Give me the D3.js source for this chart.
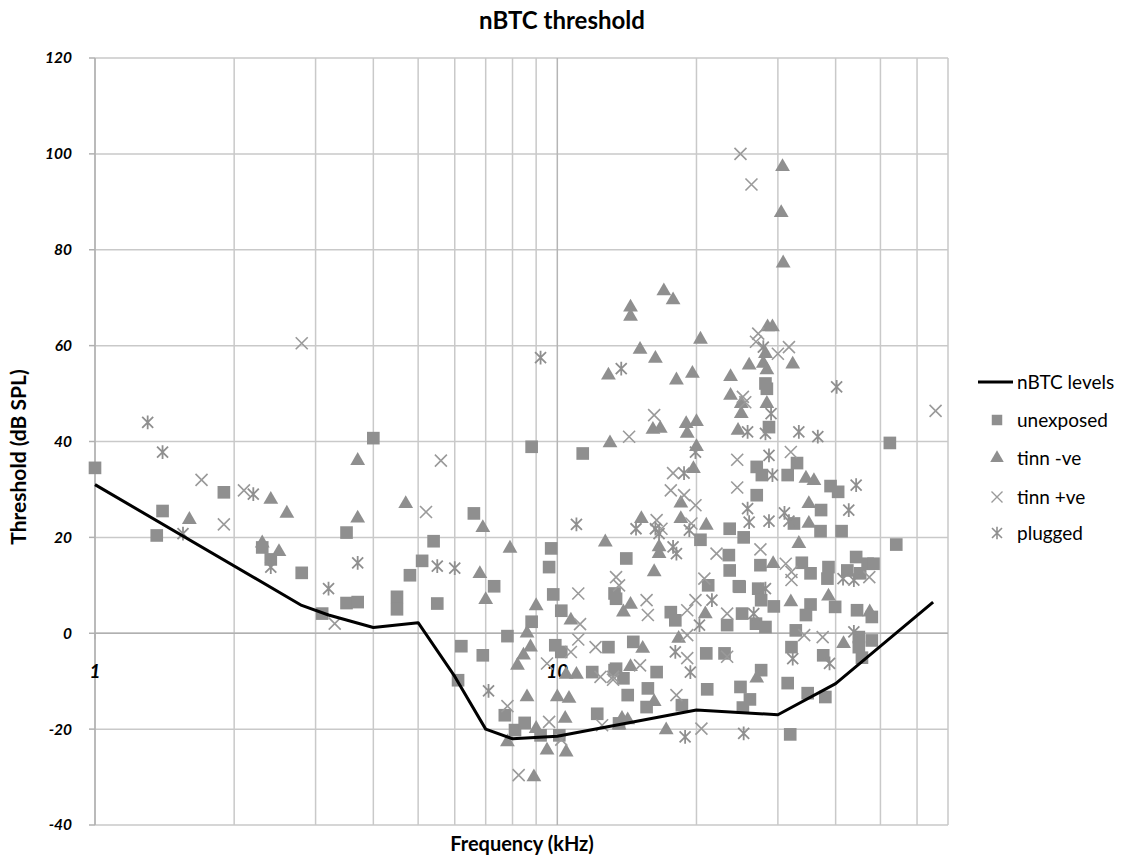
<!DOCTYPE html>
<html>
<head>
<meta charset="utf-8">
<script src="https://cdn.jsdelivr.net/npm/d3@7"></script>
<style>
  body { margin: 0; background: #fff; }
  text { font-family: Lato, "Open Sans", sans-serif; }
</style>
</head>
<body>
<div class="chart"></div>
<script>
// nBTC reference curve
var nbtcFreq  = [1, 2.8, 3.2, 4, 5, 6, 7, 8, 10, 20, 30, 40, 65];
var nbtcLevel = [31, 5.8, 3.8, 1.2, 2.2, -9, -20, -22, -21.5, -16, -17, -10.5, 6.5];

// [frequency kHz, threshold dB SPL]
var unexposed = [
  [1.0,34.5],[1.9,29.4],[1.4,25.5],[1.36,20.4],[2.3,17.9],[2.4,15.4],[2.8,12.6],[3.1,4.1],
  [4.0,40.7],[8.8,38.9],[6.6,25],[3.5,21],[5.4,19.2],[9.7,17.7],[5.1,15.1],[9.6,13.8],[4.8,12.1],
  [7.3,9.8],[9.8,8.1],[3.5,6.3],[3.7,6.5],[4.5,7.6],[4.5,5.0],[5.5,6.2],[10.2,4.7],[8.8,2.4],
  [7.8,-0.6],[6.2,-2.7],[6.9,-4.6],[9.9,-2.5],[10.2,-3.9],[12.9,-2.9],[11.9,-8.1],[13.3,-7.7],
  [6.1,-9.8],[7.7,-17.1],[12.2,-16.8],[8.1,-20.2],[8.5,-18.7],[9.2,-21.3],[10.1,-21.3],
  [11.35,37.5],[27.0,34.7],[28.4,51],[28.2,52.1],[28.7,43],[52.4,39.7],[33,35.5],[27.7,33],
  [31.5,33],[39,30.7],[40.5,29.5],[27,28.8],[37.2,25.7],[32.5,22.9],[37.1,21.3],[41.2,21.3],
  [25.3,20],[54.1,18.5],[27.5,14.2],[33.8,14.7],[35.3,12.5],[38.6,13.8],[38.4,11.4],[44.3,15.9],
  [46.9,14.5],[42.4,13.1],[45.2,12.5],[48.3,14.5],[24.8,9.7],[27.2,9.3],[27.6,6.9],[29.4,5.6],
  [35.3,6.0],[39.9,5.5],[44.5,4.8],[47.9,3.4],[34.5,3.8],[26.9,2.0],[28.2,1.3],[32.8,0.6],
  [44.9,-0.8],[47.9,-1.5],[44.9,-2.9],[32.1,-2.9],[37.6,-4.6],[45.6,-5.1],[27.6,-7.7],
  [31.5,-10.4],[34.8,-12.5],[38,-13.3],[26.1,-13.8],[25.2,-15.5],[31.9,-21.1],
  [23.6,21.8],[20.4,19.5],[23.5,16.3],[23.6,13.1],[14.1,15.6],[21.2,10],[24.7,9.8],[13.3,8.3],
  [13.4,7.2],[17.6,4.4],[18,2.7],[23.3,1.7],[25.1,4.1],[14.6,-1.8],[21,-4.2],[23,-4.2],
  [13.4,-7.4],[13.9,-9.4],[16.4,-8.1],[14.2,-12.9],[15.7,-11.5],[15.6,-15.4],[18.6,-15],
  [13.6,-18.8],[21.1,-11.7],[24.9,-11.2]
];

var tinnNeg = [
  [2.4,27.9],[2.6,25],[1.6,23.7],[2.3,18.8],[2.5,17],[3.7,36],[4.7,27],[3.7,24],[6.9,22],
  [7.9,17.7],[6.8,12.4],[7.0,7.0],[9.0,5.7],[8.6,0],[8.75,-2.9],[8.45,-4.6],[8.2,-6.7],
  [10.7,2.7],[10.45,-8.6],[11.0,-8.6],[8.6,-13.3],[10.0,-13.3],[10.6,-13.6],[10.4,-17.8],
  [9.0,-19.9],[7.8,-22.7],[9.5,-24.4],[10.45,-24.8],[8.9,-30],[13.6,-19.2],
  [17,71.4],[17.8,69.5],[14.4,68],[14.4,66.1],[20.4,61.3],[15.1,59.2],[16.3,57.3],[12.9,53.8],
  [18.1,52.8],[19.6,54.2],[23.7,53.5],[26,55.9],[23.7,49.6],[25,47.9],[25,45.8],[24.6,42.3],
  [16.1,42.5],[16.7,42.7],[19,43.7],[20,44.1],[19.1,41.7],[13,39.7],[20,38.9],[19.7,34.3],
  [30.7,97.3],[30.5,87.7],[30.8,77.2],[28.5,63.9],[29.2,63.9],[28.2,58.3],[32.3,56.1],
  [27.9,56.3],[28.4,54.9],[28.4,47.9],[34.5,32.3],[35.9,31.8],[35,27],[35,22.9],[33.3,18.7],
  [29.3,14.5],[32,6.5],[38.6,7.7],[47.4,4.4],[41.6,-2.2],[27,-9.4],
  [18.5,27.1],[18.5,23.9],[15.2,23.9],[21,22.5],[12.7,19],[16.6,18],[16.6,16.6],[16.2,12.8],
  [14.4,6],[13.9,4.4],[20.9,4],[15.3,-3.2],[18.3,-1.1],[14.4,-7],[16.2,-14.3],[13.8,-17.8],
  [14.2,-18.1],[17.2,-20.2]
];

var tinnPos = [
  [1.7,32],[2.1,29.8],[1.9,22.7],[3.3,2],[2.8,60.5],[5.6,36],[5.2,25.3],
  [11.2,1.9],[11.1,-1.3],[10.7,-3.9],[12.1,-2.9],[9.5,-6.3],[12.4,-9.1],[13.2,-9.7],[7.8,-15.2],
  [9.6,-18.5],[10.2,-22.2],[8.25,-29.6],[12.5,-19.2],
  [25.2,49.3],[25.5,48.2],[16.2,45.5],[14.3,41],[24.5,36.2],[17.8,33.4],
  [24.9,100],[26.3,93.6],[27.2,62.5],[26.9,60.8],[31.7,59.7],[30,58.3],
  [65.8,46.4],[32,37.8],[27.5,17.5],[31.2,14.5],[32.1,12.8],[32.1,11.1],[47.3,11.7],[34.2,-0.4],
  [37.5,-0.8],[24.5,30.4],[17.6,29.8],[18.8,28.8],[19.9,26.7],[16.4,23.6],[16.8,21.8],[19.5,22.9],
  [22.1,16.6],[20.8,11.4],[13.4,11.7],[13.6,10],[11.1,8.3],[15.6,6.9],[15.7,3.8],[19.1,4.8],
  [19.9,6.9],[23.3,4.1],[19.1,-0.4],[19.1,-5.2],[23.3,-4.9],[13.2,-9.1],[15.1,-6.7],[18.1,-12.9],
  [20.5,-19.9]
];

var plugged = [
  [1.3,44],[1.4,37.8],[1.55,20.8],[2.2,29],[2.4,13.8],[3.2,9.3],[9.2,57.5],[3.7,14.7],[5.5,14],
  [6.0,13.6],[7.1,-12],[13.75,55.2],[25.8,42],[19.9,37.8],[18.8,33.4],[27.9,59.7],[29,45.8],
  [28.2,41.7],[33.3,42],[36.6,41],[40.2,51.4],[28.7,37.1],[29.2,33],[44.3,30.9],[42.7,25.7],
  [25.8,26],[26,23.2],[28.7,23.4],[31,25.1],[31.7,23.4],[41.5,11.4],[43.8,11.1],[28.2,9.3],
  [26.6,4.1],[43.8,0.3],[32.3,-5.3],[38.8,-6.3],[25.3,-20.9],[11,22.7],[14.8,21.8],[16.3,21.8],
  [16.6,20.8],[19.3,21.5],[17.8,18],[18.1,16.6],[20.3,1.7],[21.6,6.9],[18,-3.9],[19.4,-8.1],
  [18.9,-21.6]
];

var yTicks = [-40, -20, 0, 20, 40, 60, 80, 100, 120];
var xGrid = [1, 2, 3, 4, 5, 6, 7, 8, 9, 10, 20, 30, 40, 50, 60, 70];
var xLabels = [1, 10];
var legendNames = ["nBTC levels", "unexposed", "tinn -ve", "tinn +ve", "plugged"];

var margin = {top: 58, right: 180, bottom: 32, left: 95},
    width = 853,
    height = 767;

var grey = "#8f8f8f";

var svg = d3.select(".chart").append("svg")
    .attr("width", 1128)
    .attr("height", 857);

var g = svg.append("g")
    .attr("transform", "translate(" + margin.left + "," + margin.top + ")");

var x = d3.scaleLog().domain([1, 70]).range([0, width]);
var y = d3.scaleLinear().domain([-40, 120]).range([height, 0]);

// gridlines
g.append("g")
    .selectAll("line.h")
    .data(yTicks)
  .enter().append("line")
    .attr("x1", 0).attr("x2", width)
    .attr("y1", function(d) { return y(d); })
    .attr("y2", function(d) { return y(d); })
    .attr("stroke", "#c9c9c9")
    .attr("stroke-width", 1.5);

g.append("g")
    .selectAll("line.v")
    .data(xGrid)
  .enter().append("line")
    .attr("x1", function(d) { return x(d); })
    .attr("x2", function(d) { return x(d); })
    .attr("y1", 0).attr("y2", height)
    .attr("stroke", function(d) { return d == 10 ? "#b5b5b5" : "#c9c9c9"; })
    .attr("stroke-width", 1.5);

// axes lines
g.append("line")
    .attr("x1", 0).attr("x2", 0).attr("y1", 0).attr("y2", height)
    .attr("stroke", "#b0b0b0").attr("stroke-width", 1.5);
g.append("line")
    .attr("x1", 0).attr("x2", width).attr("y1", y(0)).attr("y2", y(0))
    .attr("stroke", "#b0b0b0").attr("stroke-width", 1.5);

g.selectAll("line.ytick")
    .data(yTicks)
  .enter().append("line")
    .attr("x1", -6).attr("x2", 0)
    .attr("y1", function(d) { return y(d); })
    .attr("y2", function(d) { return y(d); })
    .attr("stroke", "#b0b0b0").attr("stroke-width", 1.5);

g.append("line")
    .attr("x1", 0).attr("x2", 0).attr("y1", y(0)).attr("y2", y(0) + 6)
    .attr("stroke", "#b0b0b0").attr("stroke-width", 1.5);

// tick labels
g.selectAll("text.ylab")
    .data(yTicks)
  .enter().append("text")
    .attr("x", -23)
    .attr("y", function(d) { return y(d); })
    .attr("dy", "0.35em")
    .attr("text-anchor", "end")
    .attr("font-size", 15.5)
    .attr("font-weight", "bold")
    .attr("font-style", "italic")
    .text(function(d) { return d; });

g.selectAll("text.xlab")
    .data(xLabels)
  .enter().append("text")
    .attr("x", function(d) { return x(d); })
    .attr("y", y(0) + 45)
    .attr("text-anchor", "middle")
    .attr("font-size", 19)
    .attr("font-weight", "bold")
    .attr("font-style", "italic")
    .text(function(d) { return d; });

// titles
svg.append("text")
    .attr("x", 562).attr("y", 29)
    .attr("text-anchor", "middle")
    .attr("font-size", 24)
    .attr("font-weight", "bold")
    .text("nBTC threshold");

svg.append("text")
    .attr("x", 522).attr("y", 851)
    .attr("text-anchor", "middle")
    .attr("font-size", 20)
    .attr("font-weight", "bold")
    .text("Frequency (kHz)");

svg.append("text")
    .attr("transform", "translate(26,457) rotate(-90)")
    .attr("text-anchor", "middle")
    .attr("font-size", 21)
    .attr("font-weight", "bold")
    .text("Threshold (dB SPL)");

// marker shapes
var sq = d3.symbol().type(d3.symbolSquare).size(160);
var tri = d3.symbol().type(d3.symbolTriangle).size(95);
function crossPath(r) {
  return "M" + (-r) + "," + (-r) + "L" + r + "," + r + "M" + (-r) + "," + r + "L" + r + "," + (-r);
}
function starPath(r) {
  return crossPath(r) + "M0," + (-r * 1.25) + "L0," + (r * 1.25);
}

function plotPoints(data, kind) {
  var sel = g.append("g").selectAll("path")
      .data(data)
    .enter().append("path")
      .attr("transform", function(d) { return "translate(" + x(d[0]) + "," + y(d[1]) + ")"; });
  if (kind == "square") sel.attr("d", sq()).attr("fill", grey);
  else if (kind == "triangle") sel.attr("d", tri()).attr("fill", grey);
  else if (kind == "cross") sel.attr("d", crossPath(6)).attr("fill", "none").attr("stroke", "#9a9a9a").attr("stroke-width", 1.6);
  else sel.attr("d", starPath(5.5)).attr("fill", "none").attr("stroke", "#8f8f8f").attr("stroke-width", 1.8);
}

plotPoints(unexposed, "square");
plotPoints(tinnNeg, "triangle");
plotPoints(tinnPos, "cross");
plotPoints(plugged, "star");

// nBTC line
var valueline = d3.line()
    .x(function(d, i) { return x(nbtcFreq[i]); })
    .y(function(d) { return y(d); });

g.append("path")
    .datum(nbtcLevel)
    .attr("fill", "none")
    .attr("stroke", "#000")
    .attr("stroke-width", 3)
    .attr("stroke-linejoin", "round")
    .attr("d", valueline);

// legend
var legend = svg.append("g");
var ly = [382, 420, 458, 497, 533];

legend.append("line")
    .attr("x1", 978).attr("x2", 1013).attr("y1", ly[0]).attr("y2", ly[0])
    .attr("stroke", "#000").attr("stroke-width", 3);
legend.append("path").attr("transform", "translate(997," + ly[1] + ")")
    .attr("d", d3.symbol().type(d3.symbolSquare).size(110)()).attr("fill", grey);
legend.append("path").attr("transform", "translate(997," + ly[2] + ")")
    .attr("d", d3.symbol().type(d3.symbolTriangle).size(80)()).attr("fill", grey);
legend.append("path").attr("transform", "translate(997," + ly[3] + ")")
    .attr("d", crossPath(5.5)).attr("stroke", "#9a9a9a").attr("stroke-width", 1.4);
legend.append("path").attr("transform", "translate(997," + ly[4] + ")")
    .attr("d", starPath(5)).attr("stroke", "#8f8f8f").attr("stroke-width", 1.6);

legend.selectAll("text")
    .data(legendNames)
  .enter().append("text")
    .attr("x", 1017)
    .attr("y", function(d, i) { return ly[i]; })
    .attr("dy", "0.35em")
    .attr("font-size", 19)
    .text(function(d) { return d; });
</script>
</body>
</html>
